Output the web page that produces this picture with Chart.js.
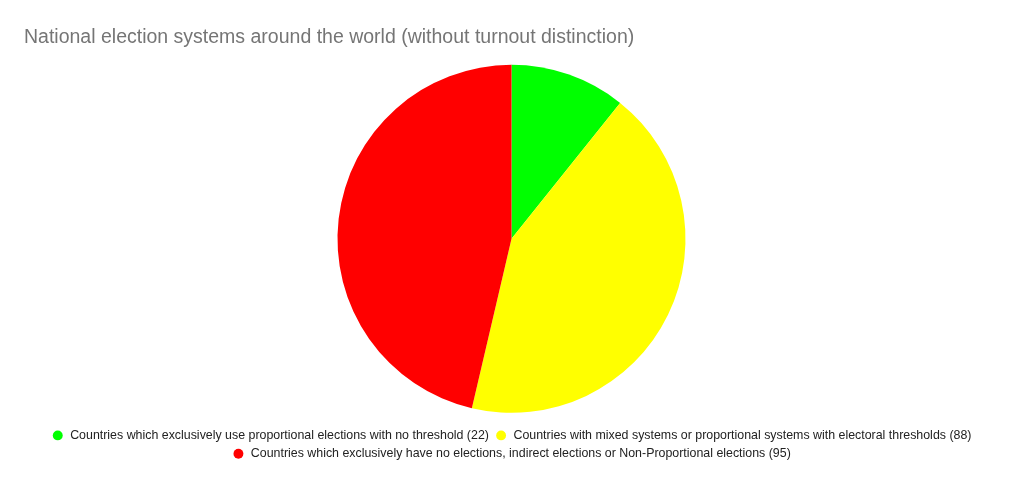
<!DOCTYPE html>
<html lang="en">
<head>
  <meta charset="UTF-8">
  <title>National election systems</title>
  <script src="https://cdn.jsdelivr.net/npm/chart.js"></script>
  <style>
    html, body { margin: 0; padding: 0; background: #fff; }
    #wrap { width: 1023px; height: 486px; position: relative; }
  </style>
</head>
<body>
<div id="wrap"><canvas id="pieChart"></canvas></div>
<script>
  const categories = [
    "Countries which exclusively use proportional elections with no threshold (22)",
    "Countries with mixed systems or proportional systems with electoral thresholds (88)",
    "Countries which exclusively have no elections, indirect elections or Non-Proportional elections (95)"
  ];
  const countries = [22, 88, 95];
  const sliceColors = ["#00ff00", "#ffff00", "#ff0000"];

  new Chart(document.getElementById("pieChart"), {
    type: "pie",
    data: {
      labels: categories,
      datasets: [{
        data: countries,
        backgroundColor: sliceColors,
        borderWidth: 0,
        radius: 174
      }]
    },
    options: {
      responsive: true,
      maintainAspectRatio: false,
      animation: false,
      layout: { padding: { left: 24, right: 24, top: 0, bottom: 16 } },
      plugins: {
        title: {
          display: true,
          text: "National election systems around the world (without turnout distinction)",
          align: "start",
          color: "#757575",
          font: { family: "'Liberation Sans', Arial, sans-serif", size: 19.5, weight: "normal" },
          padding: { top: 26, bottom: 5 }
        },
        legend: {
          position: "bottom",
          labels: {
            usePointStyle: true,
            pointStyle: "circle",
            boxWidth: 13,
            boxHeight: 7,
            padding: 6,
            color: "#222",
            font: { family: "'Liberation Sans', Arial, sans-serif", size: 12.4 }
          }
        },
        tooltip: { enabled: false }
      }
    }
  });
</script>
</body>
</html>
